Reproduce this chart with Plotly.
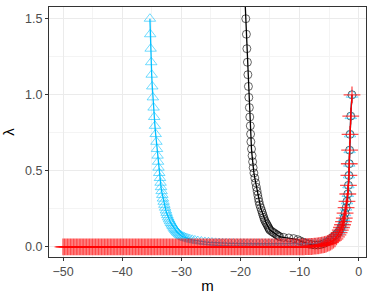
import plotly.graph_objects as go

# ---------------- data ----------------
# black series (circles): left branch, flat part, right branch
black_m = [-19.2, -19.08, -18.98, -18.9, -18.81, -18.73, -18.64, -18.57, -18.48, -18.41,
           -18.32, -18.27, -18.22, -18.12, -18.02, -17.93, -17.84, -17.71, -17.56, -17.42,
           -17.29, -17.17, -17.06, -16.95, -16.85, -16.73, -16.57, -16.42, -16.29, -16.17,
           -16.05, -15.94, -15.82, -15.64, -15.5, -15.37, -15.23, -15.12, -15.01, -14.73,
           -14.46, -14.23, -13.96, -13.77, -13.53, -13.34, -12.7, -11.8, -11.0, -10.3,
           -9.9, -9.4, -8.9, -8.4, -7.9, -7.4, -6.9, -6.4, -5.9, -5.4, -4.9,
           -4.45, -3.98, -3.6, -3.3, -3.05, -2.82, -2.62, -2.46, -2.29, -2.12,
           -1.97, -1.83, -1.72, -1.64, -1.58, -1.52, -1.45, -1.33, -1.12]
black_lam = [1.61, 1.5, 1.398, 1.303, 1.214, 1.132, 1.055, 0.983, 0.916, 0.854,
             0.796, 0.742, 0.691, 0.644, 0.600, 0.560, 0.521, 0.486, 0.453, 0.422,
             0.393, 0.367, 0.342, 0.318, 0.297, 0.277, 0.258, 0.240, 0.224, 0.209,
             0.194, 0.181, 0.169, 0.157, 0.147, 0.137, 0.127, 0.119, 0.111, 0.103,
             0.096, 0.090, 0.083, 0.078, 0.072, 0.067, 0.063, 0.059, 0.055, 0.048,
             0.040, 0.032, 0.025, 0.019, 0.015, 0.013, 0.013, 0.016, 0.022, 0.031, 0.045,
             0.063, 0.077, 0.090, 0.104, 0.121, 0.141, 0.164, 0.190, 0.222, 0.258,
             0.300, 0.348, 0.405, 0.470, 0.547, 0.636, 0.740, 0.860, 1.0]

# cyan series (triangles)
cyan_m = [-35.3, -35.25, -35.18, -35.08, -35.0, -34.9, -34.8, -34.68, -34.57, -34.45,
          -34.33, -34.2, -34.1, -34.0, -33.92, -33.85, -33.72, -33.6, -33.5, -33.42,
          -33.32, -33.2, -33.1, -32.98, -32.85, -32.73, -32.6, -32.48, -32.35, -32.2,
          -32.05, -31.9, -31.75, -31.6, -31.45, -31.3, -31.15, -31.0, -30.85, -30.7,
          -30.52, -30.35, -30.15, -29.95, -29.7, -29.45, -29.2, -28.9, -28.55, -28.15,
          -27.7, -27.2, -26.6, -26.0, -25.4, -24.8, -24.2, -23.6, -23.0, -22.4,
          -21.8, -21.2, -20.6, -20.0, -19.4, -18.8, -18.2, -17.6, -17.0, -16.4,
          -15.8, -15.2, -14.6, -14.0, -13.4, -12.8, -12.2, -11.6, -11.0, -10.4,
          -9.8, -9.2, -8.6, -8.0, -7.4, -6.8, -6.2, -5.7, -5.2, -4.75,
          -4.35, -3.95, -3.6, -3.3, -3.05, -2.82, -2.62, -2.46, -2.29, -2.12,
          -1.97, -1.83, -1.72, -1.64, -1.58, -1.52, -1.45, -1.33, -1.12]
cyan_lam = [1.5, 1.398, 1.303, 1.214, 1.132, 1.055, 0.983, 0.916, 0.854, 0.796,
            0.742, 0.691, 0.644, 0.600, 0.560, 0.521, 0.486, 0.453, 0.422, 0.393,
            0.367, 0.342, 0.318, 0.297, 0.277, 0.258, 0.240, 0.224, 0.209, 0.194,
            0.181, 0.169, 0.157, 0.147, 0.137, 0.127, 0.119, 0.111, 0.103, 0.096,
            0.090, 0.083, 0.078, 0.072, 0.067, 0.063, 0.059, 0.055, 0.051, 0.047,
            0.043, 0.039, 0.036, 0.033, 0.031, 0.029, 0.027, 0.026, 0.025, 0.024,
            0.023, 0.023, 0.022, 0.022, 0.022, 0.021, 0.021, 0.021, 0.021, 0.021,
            0.021, 0.021, 0.021, 0.021, 0.021, 0.021, 0.021, 0.021, 0.021, 0.021,
            0.021, 0.022, 0.022, 0.023, 0.024, 0.026, 0.029, 0.033, 0.040, 0.050,
            0.063, 0.077, 0.090, 0.104, 0.121, 0.141, 0.164, 0.190, 0.222, 0.258,
            0.300, 0.348, 0.405, 0.470, 0.547, 0.636, 0.740, 0.860, 1.0]

# red series (crosses)
red_m = [-50.0, -49.75, -49.5, -49.25, -49.0, -48.75, -48.5, -48.25,
         -48.0, -47.75, -47.5, -47.25, -47.0, -46.75, -46.5, -46.25,
         -46.0, -45.75, -45.5, -45.25, -45.0, -44.75, -44.5, -44.25,
         -44.0, -43.75, -43.5, -43.25, -43.0, -42.75, -42.5, -42.25,
         -42.0, -41.75, -41.5, -41.25, -41.0, -40.75, -40.5, -40.25,
         -40.0, -39.75, -39.5, -39.25, -39.0, -38.75, -38.5, -38.25,
         -38.0, -37.75, -37.5, -37.25, -37.0, -36.75, -36.5, -36.25,
         -36.0, -35.75, -35.5, -35.25, -35.0, -34.75, -34.5, -34.25,
         -34.0, -33.75, -33.5, -33.25, -33.0, -32.75, -32.5, -32.25,
         -32.0, -31.75, -31.5, -31.25, -31.0, -30.75, -30.5, -30.25,
         -30.0, -29.75, -29.5, -29.25, -29.0, -28.75, -28.5, -28.25,
         -28.0, -27.75, -27.5, -27.25, -27.0, -26.75, -26.5, -26.25,
         -26.0, -25.75, -25.5, -25.25, -25.0, -24.75, -24.5, -24.25,
         -24.0, -23.75, -23.5, -23.25, -23.0, -22.75, -22.5, -22.25,
         -22.0, -21.75, -21.5, -21.25, -21.0, -20.75, -20.5, -20.25,
         -20.0, -19.75, -19.5, -19.25, -19.0, -18.75, -18.5, -18.25,
         -18.0, -17.75, -17.5, -17.25, -17.0, -16.75, -16.5, -16.25,
         -16.0, -15.75, -15.5, -15.25, -15.0, -14.75, -14.5, -14.25,
         -14.0, -13.75, -13.5, -13.25, -13.0, -12.75, -12.5, -12.25,
         -12.0, -11.75, -11.5, -11.25, -11.0, -10.75, -10.5, -10.25,
         -10.0, -9.75, -9.5, -9.25, -9.0, -8.75, -8.5, -8.25,
         -8.0, -7.75, -7.5, -7.25, -7.0, -6.75, -6.5, -6.25,
         -6.0, -5.75, -5.5, -5.25, -5.0, -4.75, -4.5, -4.25,
         -4.0, -3.75, -3.5, -3.3, -3.1, -2.9, -2.72, -2.56, -2.42,
         -2.29, -2.12, -1.97, -1.83, -1.72, -1.64, -1.58, -1.52, -1.45, -1.33, -1.12]
red_lam = [0.0, 0.0, 0.0, 0.0, 0.0, 0.0, 0.0, 0.0,
           0.0, 0.0, 0.0, 0.0, 0.0, 0.0, 0.0, 0.0,
           0.0, 0.0, 0.0, 0.0, 0.0, 0.0, 0.0, 0.0,
           0.0, 0.0, 0.0, 0.0, 0.0, 0.0, 0.0, 0.0,
           0.0, 0.0, 0.0, 0.0, 0.0, 0.0, 0.0, 0.0,
           0.0, 0.0, 0.0, 0.0, 0.0, 0.0, 0.0, 0.0,
           0.0, 0.0, 0.0, 0.0, 0.0, 0.0, 0.0, 0.0,
           0.0, 0.0, 0.0, 0.0, 0.0, 0.0, 0.0, 0.0,
           0.0, 0.0, 0.0, 0.0, 0.0, 0.0, 0.0, 0.0,
           0.0, 0.0, 0.0, 0.0, 0.0, 0.0, 0.0, 0.0,
           0.0, 0.0, 0.0, 0.0, 0.0, 0.0, 0.0, 0.0,
           0.0, 0.0, 0.0, 0.0, 0.0, 0.0, 0.0, 0.0,
           0.0, 0.0, 0.0, 0.0, 0.0, 0.0, 0.0, 0.0,
           0.0, 0.0, 0.0, 0.0, 0.0, 0.0, 0.0, 0.0,
           0.0, 0.0, 0.0, 0.0, 0.0, 0.0, 0.0, 0.0,
           0.0, 0.0, 0.0, 0.0, 0.0, 0.0, 0.0, 0.0,
           0.0, 0.0, 0.0, 0.0, 0.0, 0.0, 0.0, 0.0,
           0.0, 0.0, 0.0, 0.0, 0.0, 0.0, 0.0, 0.0,
           0.0, 0.0, 0.0, 0.0, 0.0, 0.0, 0.0, 0.0,
           0.0, 0.0, 0.0, 0.0, 0.0, 0.0, 0.0, 0.0,
           0.0, 0.001, 0.001, 0.001, 0.002, 0.002, 0.002, 0.003,
           0.003, 0.004, 0.005, 0.006, 0.007, 0.008, 0.010, 0.012,
           0.014, 0.016, 0.019, 0.023, 0.027, 0.032, 0.038, 0.045,
           0.053, 0.066, 0.080, 0.094, 0.110, 0.128, 0.146, 0.166, 0.190,
           0.222, 0.258, 0.300, 0.348, 0.405, 0.470, 0.547, 0.636, 0.740, 0.860, 1.0]

x_ticks = [-50, -40, -30, -20, -10, 0]
x_tick_labels = ["\u221250", "\u221240", "\u221230", "\u221220", "\u221210", "0"]
y_ticks = [0.0, 0.5, 1.0, 1.5]
y_tick_labels = ["0.0", "0.5", "1.0", "1.5"]

# ---------------- figure ----------------
fig = go.Figure()

fig.add_trace(go.Scatter(
    x=black_m, y=black_lam, mode="lines+markers",
    line=dict(color="black", width=1.3),
    marker=dict(symbol="circle-open", size=8, color="rgba(0,0,0,0.6)",
                line=dict(width=1, color="rgba(0,0,0,0.6)")),
    showlegend=False))

fig.add_trace(go.Scatter(
    x=cyan_m, y=cyan_lam, mode="lines+markers",
    line=dict(color="#00BFFF", width=1.3),
    marker=dict(symbol="triangle-up-open", size=10, color="rgba(0,191,255,0.55)",
                line=dict(width=1, color="rgba(0,191,255,0.55)")),
    showlegend=False))

fig.add_trace(go.Scatter(
    x=red_m, y=red_lam, mode="lines+markers",
    line=dict(color="red", width=1.3),
    marker=dict(symbol="cross-thin-open", size=12, color="rgba(255,0,0,0.7)",
                line=dict(width=1.3, color="rgba(255,0,0,0.7)")),
    showlegend=False))

axis_common = dict(
    showline=True, linecolor="#333333", linewidth=1, mirror=True,
    ticks="outside", ticklen=3, tickcolor="#333333", tickwidth=1,
    gridcolor="#EBEBEB", gridwidth=1, zeroline=False, automargin=False,
    tickfont=dict(family="Liberation Sans, Arial, sans-serif", size=12.5, color="#4D4D4D"),
    title_font=dict(family="Liberation Sans, Arial, sans-serif", size=15, color="black"),
)

fig.update_xaxes(**axis_common, range=[-52.37, 1.25], tickvals=x_ticks,
                 ticktext=x_tick_labels,
                 minor=dict(tickvals=[-45, -35, -25, -15, -5], showgrid=True,
                            gridcolor="#F4F4F4", gridwidth=1, ticks=""),
                 title_text="m", title_standoff=2)
fig.update_yaxes(**axis_common, range=[-0.066, 1.577], tickvals=y_ticks,
                 ticktext=y_tick_labels,
                 minor=dict(tickvals=[0.25, 0.75, 1.25], showgrid=True,
                            gridcolor="#F4F4F4", gridwidth=1, ticks=""),
                 title_text="\u03bb", title_standoff=6)

fig.update_layout(
    width=374, height=299,
    margin=dict(l=49, r=8, t=7, b=42),
    plot_bgcolor="white", paper_bgcolor="white",
)

fig.write_html("out.html", config={"displayModeBar": False},
               post_script="document.body.style.margin='0';document.body.style.padding='0';")
